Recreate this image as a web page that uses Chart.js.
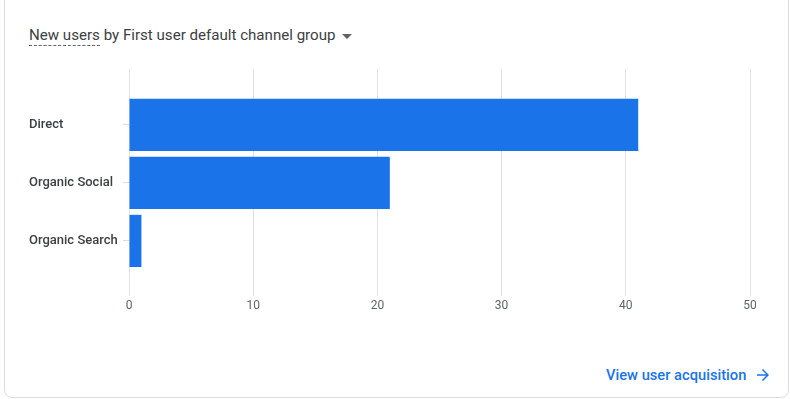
<!DOCTYPE html>
<html>
<head>
<meta charset="utf-8">
<script src="https://cdn.jsdelivr.net/npm/chart.js@4/dist/chart.umd.min.js"></script>
<style>
    html, body { margin: 0; padding: 0; background: #fff; }
    body { width: 790px; height: 399px; position: relative; overflow: hidden; font-family: Roboto, Arial, sans-serif; }
    .card {
        position: absolute; left: 4px; top: -10px; width: 785px; height: 408px;
        border: 1px solid #dadce0; border-radius: 8px; box-sizing: border-box;
    }
    .title {
        position: absolute; left: 29px; top: 25px; font-size: 15.1px; color: #3c4043;
        line-height: 20px; white-space: nowrap;
    }
    .title .dim { border-bottom: 1px dashed #5f6368; padding-bottom: 1px; }
    .title .caret {
        display: inline-block; width: 0; height: 0; margin-left: 6px; vertical-align: middle;
        border-left: 5px solid transparent; border-right: 5px solid transparent; border-top: 5px solid #5f6368;
    }
    .link {
        position: absolute; left: 606px; top: 365px; font-size: 14.7px; font-weight: 500;
        color: #1a73e8; line-height: 20px; white-space: nowrap;
    }
    .link svg { position: absolute; left: 148px; top: 1px; }
    #channelChart { position: absolute; left: 0; top: 0; }
</style>
</head>
<body>
<div class="card"></div>
<div class="title"><span class="dim">New users</span> by First user default channel group<span class="caret"></span></div>
<div class="link">View user acquisition<svg width="18" height="18" viewBox="0 0 24 24"><path fill="#1a73e8" d="M12 4l-1.41 1.41L16.17 11H4v2h12.17l-5.58 5.59L12 20l8-8z"/></svg></div>
<canvas id="channelChart" width="790" height="399"></canvas>

<script>
// 채널 그룹별 신규 사용자
const channels = ['Direct', 'Organic Social', 'Organic Search'];
const newUsers = [41, 21, 1];
const xTicks = [0, 10, 20, 30, 40, 50];

drawChart();

function drawChart() {
    const points = newUsers.map((v, i) => ({ x: v, y: i }));

    new Chart(document.getElementById('channelChart'), {
        type: 'bar',
        data: {
            labels: channels,
            datasets: [{
                label: 'New users',
                data: points,
                backgroundColor: '#1a73e8',
                borderWidth: 0,
                barPercentage: 0.9,
                categoryPercentage: 1
            }]
        },
        options: {
            indexAxis: 'y',
            responsive: false,
            animation: false,
            maintainAspectRatio: false,
            layout: { padding: { left: 29, right: 40, top: 69, bottom: 73 } },
            plugins: { legend: { display: false }, tooltip: { enabled: false } },
            scales: {
                x: {
                    type: 'linear',
                    min: xTicks[0],
                    max: xTicks[xTicks.length - 1],
                    afterBuildTicks: scale => { scale.ticks = xTicks.map(v => ({ value: v })); },
                    afterFit: scale => { scale.height = 30; },
                    grid: { color: '#e0e0e0', lineWidth: 1, drawTicks: false },
                    border: { display: false },
                    ticks: { color: '#5f6368', font: { family: 'Roboto', size: 12 }, padding: 3 }
                },
                y: {
                    type: 'linear',
                    reverse: true,
                    offset: false,
                    min: -0.965,
                    max: 2.95,
                    afterBuildTicks: scale => { scale.ticks = channels.map((c, i) => ({ value: i })); },
                    afterFit: scale => { scale.width = 100; },
                    grid: { offset: false, drawOnChartArea: false, drawTicks: true, tickLength: 6, color: '#dadce0' },
                    border: { display: false },
                    ticks: {
                        crossAlign: 'far',
                        color: '#3c4043',
                        font: { family: 'Roboto', size: 13, weight: '500' },
                        callback: v => channels[v]
                    }
                }
            }
        }
    });
}
</script>
</body>
</html>
